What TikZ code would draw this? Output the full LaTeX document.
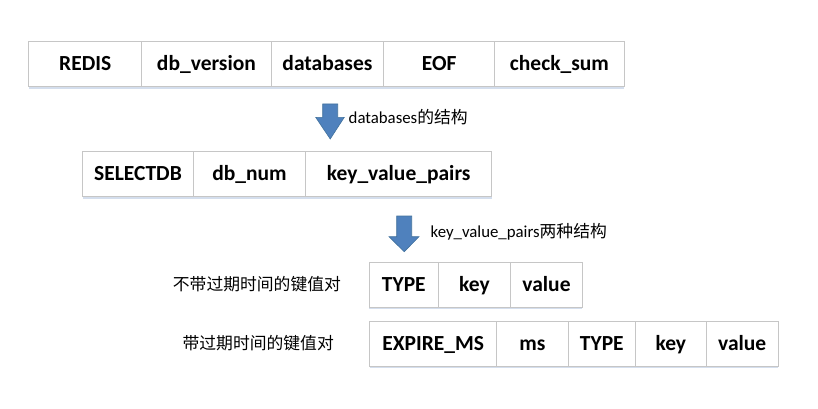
\documentclass[tikz,border=0pt]{standalone}
\usepackage{fontspec}
\usepackage{xcolor}
\usetikzlibrary{shadows}
\setmainfont{Carlito}
\newfontfamily\cjk{Noto Sans CJK SC}
\definecolor{cell_line}{HTML}{C6C6C6}
\definecolor{arrow_blue}{HTML}{4F81BD}
\definecolor{arrow_edge}{HTML}{41719C}
\definecolor{shadow_blue}{HTML}{C9D6E8}

\begin{document}
\begin{tikzpicture}[x=1pt, y=-1pt]
            % Styles
            \tikzstyle{cell} = [rectangle, draw=cell_line, line width=0.8pt, fill=white, inner sep=0pt, outer sep=0pt,
                text height=15pt, text depth=2pt,
                drop shadow={shadow xshift=0pt, shadow yshift=-2pt, fill=shadow_blue, opacity=0.8},
                font=\fontsize{21.5}{24}\selectfont\bfseries]
            \tikzstyle{note} = [anchor=west, inner sep=0pt, font=\fontsize{16.8}{20}\selectfont]
            \tikzstyle{downarrow} = [fill=arrow_blue, draw=arrow_edge, line width=0.6pt, line join=miter]

            \useasboundingbox (0,0) rectangle (818,409);

            % Nodes: rdb file
            \node[cell, minimum width=113.1pt, minimum height=45pt] (redis) at (85.25,64.2) {REDIS};
            \node[cell, minimum width=129.3pt, minimum height=45pt] (dbver) at (206.45,64.2) {db\_version};
            \node[cell, minimum width=112.7pt, minimum height=45pt] (dbs) at (327.45,64.2) {databases};
            \node[cell, minimum width=110.8pt, minimum height=45pt] (eof) at (439.2,64.2) {EOF};
            \node[cell, minimum width=129.7pt, minimum height=45pt] (chksum) at (559.45,64.2) {check\_sum};

            % Nodes: databases
            \node[cell, minimum width=110.6pt, minimum height=45pt] (selectdb) at (138,174.2) {SELECTDB};
            \node[cell, minimum width=112.4pt, minimum height=45pt] (dbnum) at (249.5,174.2) {db\_num};
            \node[cell, minimum width=186pt, minimum height=45pt] (kvpairs) at (398.7,174.2) {key\_value\_pairs};

            % Nodes: pair without expire
            \node[cell, minimum width=69pt, minimum height=44.6pt] (typeA) at (403.8,285) {TYPE};
            \node[cell, minimum width=72.4pt, minimum height=44.6pt] (keyA) at (474.5,285) {key};
            \node[cell, minimum width=71.6pt, minimum height=44.6pt] (valueA) at (546.5,285) {value};

            % Nodes: pair with expire
            \node[cell, minimum width=127.3pt, minimum height=44.3pt] (expms) at (433.15,343.85) {EXPIRE\_MS};
            \node[cell, minimum width=71.4pt, minimum height=44.3pt] (ms) at (532.5,343.85) {ms};
            \node[cell, minimum width=67.3pt, minimum height=44.3pt] (typeB) at (601.85,343.85) {TYPE};
            \node[cell, minimum width=70.6pt, minimum height=44.3pt] (keyB) at (670.8,343.85) {key};
            \node[cell, minimum width=72.2pt, minimum height=44.3pt] (valueB) at (742.2,343.85) {value};

            % Arrows
            \draw[downarrow] (322.7,104) -- (337.7,104) -- (337.7,117.3) -- (344.3,117.3) -- (330.2,139)
                -- (315.7,117.3) -- (322.7,117.3) -- cycle;
            \draw[downarrow] (396.7,216) -- (411.7,216) -- (411.7,236.7) -- (419,236.7) -- (404.2,251.7)
                -- (389,236.7) -- (396.7,236.7) -- cycle;

            % Notes
            \node[note] (dbsnote) at (348.5,116.7) {databases{\cjk 的结构}};
            \node[note] (kvnote) at (430.5,231.7) {key\_value\_pairs{\cjk 两种结构}};
            \node[note] (plainnote) at (172.7,284) {\cjk 不带过期时间的键值对};
            \node[note] (expnote) at (182.4,343.5) {\cjk 带过期时间的键值对};
        \end{tikzpicture}
\end{document}
